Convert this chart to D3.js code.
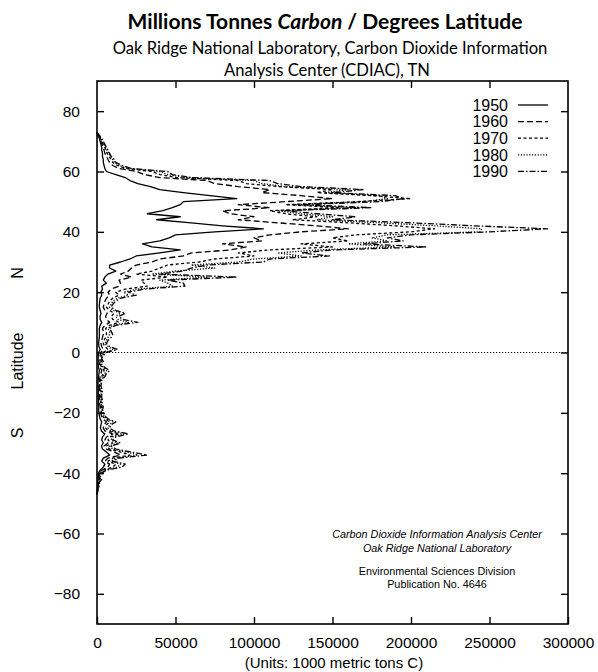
<!DOCTYPE html>
<html><head><meta charset="utf-8">
<script src="https://cdn.jsdelivr.net/npm/d3@7/dist/d3.min.js"></script>
<style>
html,body{margin:0;padding:0;background:#fff;}
svg{display:block;}
</style>
</head><body>
<svg id="chart" width="598" height="672"></svg>
<script>
// ---- data (units: 1000 metric tons C per degree latitude) ----
const latitudes = [
  73,72,71,70,69,68,67,66,65,64,
  63,62,61,60,59,58,57,56,55,54,
  53,52,51,50,49,48,47,46,45,44,
  43,42,41,40,39,38,37,36,35,34,
  33,32,31,30,29,28,27,26,25,24,
  23,22,21,20,19,18,17,16,15,14,
  13,12,11,10,9,8,7,6,5,4,
  3,2,1,0,-1,-2,-3,-4,-5,-6,
  -7,-8,-9,-10,-11,-12,-13,-14,-15,-16,
  -17,-18,-19,-20,-21,-22,-23,-24,-25,-26,
  -27,-28,-29,-30,-31,-32,-33,-34,-35,-36,
  -37,-38,-39,-40,-41,-42,-43,-44,-45,-46,
  -47];

const years = ["1950","1960","1970","1980","1990"];

const v1950 = [
  0,500,1500,2000,2500,3000,3000,3500,3500,4000,
  4000,4500,5000,6000,12000,18000,21000,26000,34000,40000,
  55000,72000,89000,55000,53000,48000,42000,32000,53000,38000,
  60000,80000,106000,75000,50000,46000,40000,29000,35000,53000,
  40000,25000,21000,15000,8000,8000,12000,7000,5000,4000,
  6000,3000,3500,2500,3000,2000,1800,1500,1500,2000,
  2500,2000,2000,3000,2000,1500,1500,1500,1500,1200,
  1000,1200,2000,1000,800,700,800,700,1000,1500,
  1200,1000,700,700,600,700,900,800,800,1000,
  800,1200,1000,1300,1500,2000,3000,2500,2200,2800,
  5000,3500,3000,4000,2800,3500,6000,8000,4000,3000,
  5000,4000,2000,1000,600,800,400,400,200,100,
  0];
const v1960 = [
  0,600,1800,2500,3200,4000,4500,5000,6000,7000,
  8000,10000,14000,25000,30000,40000,70000,75000,90000,110000,
  105000,130000,150000,120000,90000,110000,80000,85000,100000,90000,
  115000,140000,160000,130000,110000,100000,105000,80000,95000,85000,
  60000,55000,40000,35000,25000,22000,20000,15000,22000,14000,
  15000,14000,9000,7000,8000,6000,5000,4500,4000,5000,
  6500,5500,6000,8000,5000,3500,4000,4000,3500,3000,
  2500,3000,4000,2500,2000,1500,2000,1500,2000,3000,
  2500,2000,1500,1500,1000,1500,1800,1500,1500,2000,
  1500,2200,2000,2500,2800,3800,6000,4500,4000,5000,
  10000,6000,5000,7000,4500,6000,11000,15000,7000,5000,
  8000,7000,3000,1500,1000,1500,700,700,400,200,
  0];
const v1970 = [
  0,800,2000,3000,4000,5000,5500,6500,7500,9000,
  10000,13000,18000,35000,40000,50000,90000,95000,115000,150000,
  140000,175000,200000,165000,120000,155000,110000,120000,140000,125000,
  160000,190000,215000,200000,165000,150000,160000,130000,150000,110000,
  90000,100000,75000,65000,45000,40000,35000,25000,45000,28000,
  30000,32000,18000,12000,14000,10000,8000,7000,6000,8000,
  11000,9000,10000,14000,8000,5500,6000,6000,5500,4500,
  4000,5000,7000,4000,3000,2000,3000,2000,3000,4500,
  4000,3000,2000,2000,1500,2000,2500,2000,2000,2500,
  2000,3000,2500,3000,3500,5000,8000,6000,5500,7000,
  14000,8000,7000,10000,6000,8000,15000,21000,10000,7000,
  12000,10000,4000,2000,1200,2000,1000,1000,600,300,
  0];
const v1980 = [
  0,1000,2500,3500,4500,5500,6500,7500,8500,10000,
  11000,14000,20000,40000,45000,55000,100000,105000,120000,160000,
  145000,180000,185000,170000,125000,165000,115000,130000,150000,140000,
  180000,215000,245000,244000,185000,175000,185000,160000,190000,140000,
  115000,130000,100000,90000,60000,75000,50000,35000,70000,40000,
  45000,48000,25000,17000,20000,13000,10000,9000,8000,10000,
  15000,12000,13000,20000,10000,7000,8000,8000,7000,6000,
  5000,7000,10000,5000,3500,2500,3500,2500,4000,6000,
  5000,4000,2500,2500,2000,2500,3000,2500,2500,3000,
  2500,3500,3000,4000,4500,6000,10000,8000,7000,9000,
  17000,10000,9000,13000,8000,10000,19000,26000,12000,9000,
  15000,13000,5000,2500,1500,2500,1200,1200,800,400,
  0];
const v1990 = [
  0,1500,3000,4000,5000,6000,7000,8000,9000,11000,
  12000,16000,22000,45000,48000,60000,110000,115000,130000,170000,
  150000,190000,195000,180000,130000,175000,120000,140000,165000,150000,
  200000,240000,287000,250000,200000,185000,195000,170000,210000,150000,
  130000,148000,110000,106000,70000,60000,55000,40000,89000,45000,
  55000,56000,30000,20000,25000,15000,12000,10000,9000,12000,
  18000,14000,16000,26000,12000,8000,9000,10000,9000,7000,
  6000,8000,13000,6000,4000,3000,4000,3000,5000,8000,
  6000,5000,3000,3000,2500,3000,3500,3000,3000,3500,
  3000,4000,3500,4500,5000,7000,12000,9000,8000,11000,
  20000,12000,10000,15000,9000,12000,22000,32000,14000,10000,
  18000,16000,6000,3000,2000,3000,1500,1500,1000,500,
  0];

const xTicks = [0,50000,100000,150000,200000,250000,300000];
const yTicks = [-80,-60,-40,-20,0,20,40,60,80];

// ---- layout ----
const svg = d3.select("#chart");
const L = 97, R = 568, T = 81, B = 624;
const x = d3.scaleLinear().domain([0,300000]).range([L,R]);
const y = d3.scaleLinear().domain([-90,90]).range([B,T]);

const series = [
  {name:years[0], values:v1950, dash:null},
  {name:years[1], values:v1960, dash:"6,3"},
  {name:years[2], values:v1970, dash:"3,2.5"},
  {name:years[3], values:v1980, dash:"1.2,1.6"},
  {name:years[4], values:v1990, dash:"6,2,1.5,2"}
];

// title
const tf = "Lato, 'Open Sans', sans-serif";
const title = svg.append("text").attr("x",325).attr("y",29).attr("text-anchor","middle")
  .attr("font-family",tf).attr("font-size",21).attr("font-weight","bold").attr("fill","#000");
title.append("tspan").text("Millions Tonnes ");
title.append("tspan").attr("font-style","italic").text("Carbon");
title.append("tspan").text(" / Degrees Latitude");
svg.append("text").attr("x",330).attr("y",54).attr("text-anchor","middle")
  .attr("font-family",tf).attr("font-size",16.6).attr("fill","#000")
  .text("Oak Ridge National Laboratory, Carbon Dioxide Information");
svg.append("text").attr("x",327).attr("y",76).attr("text-anchor","middle")
  .attr("font-family",tf).attr("font-size",16.6).attr("fill","#000")
  .text("Analysis Center (CDIAC), TN");

const af = "'Liberation Sans', Arial, sans-serif";
const plot = svg.append("g");

// equator reference line
plot.append("line").attr("x1",x(0)).attr("x2",x(300000)).attr("y1",y(0)).attr("y2",y(0))
  .attr("stroke","#000").attr("stroke-width",1.1).attr("stroke-dasharray","1.2,1.8");

// series lines
const line = d3.line().x(d=>x(d[1])).y(d=>y(d[0]));
series.forEach(s=>{
  const pts = latitudes.map((lat,i)=>[lat, s.values[i]]);
  plot.append("path").datum(pts).attr("d",line).attr("fill","none")
    .attr("stroke","#000").attr("stroke-width",1.3)
    .attr("stroke-linejoin","round")
    .attr("stroke-dasharray",s.dash);
});

// frame
svg.append("rect").attr("x",L).attr("y",T).attr("width",R-L).attr("height",B-T)
  .attr("fill","none").attr("stroke","#000").attr("stroke-width",1.6);

// axes (inner ticks)
const tl = 7;
const axB = d3.axisBottom(x).tickValues(xTicks).tickSize(-tl).tickFormat(d3.format("d"));
const gB = svg.append("g").attr("transform",`translate(0,${B})`).call(axB);
const axT = d3.axisTop(x).tickValues(xTicks.slice(1,-1)).tickSize(-tl).tickFormat("");
const gT = svg.append("g").attr("transform",`translate(0,${T})`).call(axT);
const axLft = d3.axisLeft(y).tickValues(yTicks).tickSize(-tl).tickPadding(tl+10);
const gL = svg.append("g").attr("transform",`translate(${L},0)`).call(axLft);
const axRgt = d3.axisRight(y).tickValues(yTicks).tickSize(-tl).tickFormat("");
const gR = svg.append("g").attr("transform",`translate(${R},0)`).call(axRgt);
[gB,gT,gL,gR].forEach(g=>{
  g.select(".domain").remove();
  g.selectAll(".tick line").attr("stroke","#000").attr("stroke-width",1.4);
  g.selectAll("text").attr("font-family",af).attr("font-size",15.5).attr("fill","#000");
});
gB.selectAll(".tick text").attr("dy",0).attr("y",24);

// axis titles
svg.append("text").attr("x",334).attr("y",668).attr("text-anchor","middle")
  .attr("font-family",af).attr("font-size",15).attr("fill","#000")
  .text("(Units: 1000 metric tons C)");
[["Latitude",361],["N",273],["S",433]].forEach(([t,cy])=>{
  svg.append("text").attr("transform",`translate(23,${cy}) rotate(-90)`)
    .attr("text-anchor","middle").attr("font-family",af).attr("font-size",16).attr("fill","#000").text(t);
});

// legend
series.forEach((s,i)=>{
  const cy = 105 + i*16.6;
  svg.append("text").attr("x",508).attr("y",cy).attr("dy","0.36em").attr("text-anchor","end")
    .attr("font-family",af).attr("font-size",16).attr("fill","#000").text(s.name);
  svg.append("line").attr("x1",518).attr("x2",548).attr("y1",cy).attr("y2",cy)
    .attr("stroke","#000").attr("stroke-width",1.3).attr("stroke-dasharray",s.dash);
});

// annotation
const notes = [
  ["Carbon Dioxide Information Analysis Center",538,"italic"],
  ["Oak Ridge National Laboratory",552,"italic"],
  ["Environmental Sciences Division",575,"normal"],
  ["Publication No. 4646",588,"normal"]
];
notes.forEach(([t,yy,st])=>{
  svg.append("text").attr("x",437).attr("y",yy).attr("text-anchor","middle")
    .attr("font-family",af).attr("font-size",10.8).attr("font-style",st).attr("fill","#000").text(t);
});
</script>
</body></html>
